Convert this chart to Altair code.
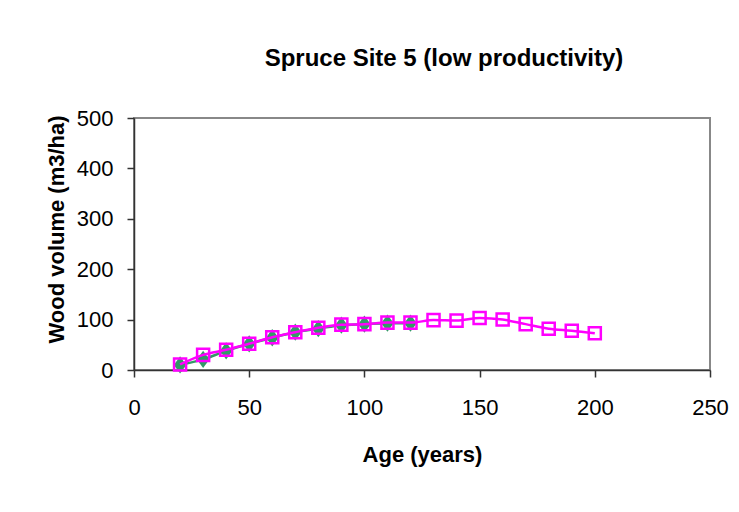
import altair as alt
import pandas as pd

ages_model = [20, 30, 40, 50, 60, 70, 80, 90, 100, 110, 120, 130, 140, 150, 160, 170, 180, 190, 200]
vol_model = [11, 30, 40, 52, 65, 75, 84, 90, 91, 94, 94, 99, 98, 103, 100, 91, 82, 78, 73]

ages_obs = [20, 30, 40, 50, 60, 70, 80, 90, 100, 110, 120]
vol_obs = [10, 21, 38, 52, 64, 75, 82, 89, 91, 93, 93]

df_m = pd.DataFrame({"age": ages_model, "vol": vol_model})
df_o = pd.DataFrame({"age": ages_obs, "vol": vol_obs})

FONT = "Liberation Sans"
W, H = 576, 252

xenc = alt.X("age:Q", scale=alt.Scale(domain=[0, 250], nice=False),
             axis=alt.Axis(values=[0, 50, 100, 150, 200, 250], title="Age (years)",
                           titleX=W / 2, titleY=84, titleBaseline="middle",
                           labelPadding=20, labelFlush=False))
yenc = alt.Y("vol:Q", scale=alt.Scale(domain=[0, 500], nice=False),
             axis=alt.Axis(values=[0, 100, 200, 300, 400, 500], title="Wood volume (m3/ha)",
                           titleX=-78, titleY=111, titleAngle=-90,
                           titleBaseline="middle", titleAlign="center",
                           labelPadding=14, labelFlush=False))

green = "#339966"
magenta = "#FF00FF"

obs_line = alt.Chart(df_o).mark_line(color=green, strokeWidth=2.5, interpolate="monotone").encode(x=xenc, y=yenc)
obs_pts = alt.Chart(df_o).mark_point(
    shape="M0,-1L0.72,0L0,1L-0.72,0Z", filled=True, color=green, size=300, opacity=1
).encode(x=xenc, y=yenc)
mod_line = alt.Chart(df_m).mark_line(color=magenta, strokeWidth=2.5, interpolate="monotone").encode(x=xenc, y=yenc)
mod_pts = alt.Chart(df_m).mark_point(
    shape="square", filled=False, color=magenta, size=145, strokeWidth=2.5, opacity=1
).encode(x=xenc, y=yenc)

chart = alt.layer(obs_line, obs_pts, mod_line, mod_pts).properties(
    width=W, height=H,
    background="white",
    title=alt.TitleParams("Spruce Site 5 (low productivity)", fontSize=24, fontWeight="bold",
                          font=FONT, anchor="middle", frame="group", dx=22,
                          baseline="alphabetic", offset=17, color="black"),
    autosize=alt.AutoSizeParams(type="none"),
    padding={"left": 126, "top": 110, "right": 20, "bottom": 130},
).configure_view(
    stroke="#888888", strokeWidth=2
).configure_axis(
    grid=False, domainColor="#333333", domainWidth=1.5, tickColor="#333333",
    tickSize=7, tickWidth=1.5, labelFont=FONT, labelFontSize=22, labelColor="black",
    titleFont=FONT, titleFontSize=22, titleFontWeight="bold", titleColor="black",
)

chart.save("out.html", embed_options={"renderer": "svg", "actions": False})
